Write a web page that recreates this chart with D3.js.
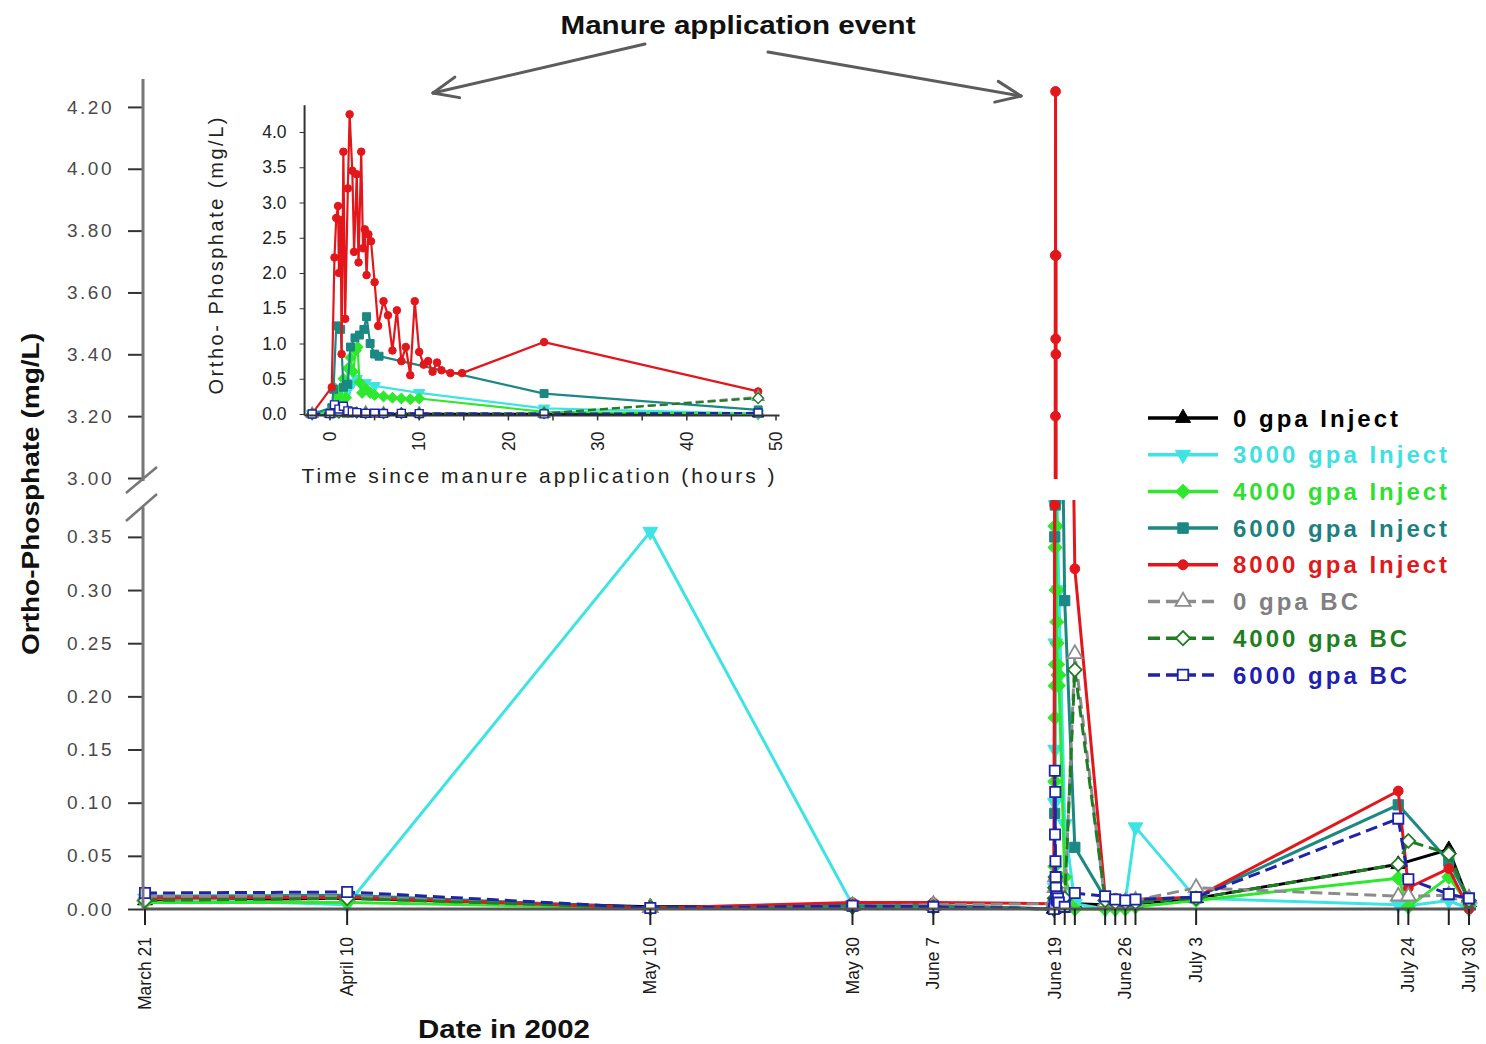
<!DOCTYPE html>
<html>
<head>
<meta charset="utf-8">
<title>Ortho-Phosphate in runoff, 2002</title>
<script src="https://cdn.jsdelivr.net/npm/d3@7/dist/d3.min.js"></script>
<style>
  html, body { margin: 0; padding: 0; background: #fff; }
  svg { display: block; font-family: "Liberation Sans", Arial, Helvetica, sans-serif; }
</style>
</head>
<body>
<svg id="chart" width="1486" height="1044"></svg>
<script>
// ---------------- data ----------------
const seriesNames = ["0 gpa Inject", "3000 gpa Inject", "4000 gpa Inject", "6000 gpa Inject",
                     "8000 gpa Inject", "0 gpa BC", "4000 gpa BC", "6000 gpa BC"];

// routine sampling days (outside the application event)
const routineDates = ["2002-03-21", "2002-04-10", "2002-05-10", "2002-05-30", "2002-06-07",
                      "2002-06-24", "2002-06-25", "2002-06-26", "2002-06-27", "2002-07-03",
                      "2002-07-23", "2002-07-24", "2002-07-28", "2002-07-30"];

// ortho-phosphate (mg/L) on each routine day; null = no sample
const routine0Inject    = [0.008, 0.010, 0.002, 0.003, 0.003, 0.004, 0.004, 0.005, 0.005, 0.010, 0.042, null,  0.056, 0.006];
const routine3000Inject = [0.010, 0.004, 0.355, 0.004, 0.002, 0.000, 0.000, 0.008, 0.077, 0.010, 0.004, 0.003, 0.008, 0.000];
const routine4000Inject = [0.006, 0.006, 0.001, 0.002, 0.002, 0.000, 0.000, 0.000, 0.002, 0.008, 0.029, 0.002, 0.030, 0.004];
const routine6000Inject = [0.012, 0.013, 0.001, 0.003, 0.003, 0.010, 0.008, 0.008, 0.008, 0.011, 0.098, null,  0.045, 0.008];
const routine8000Inject = [0.010, 0.011, 0.001, 0.006, 0.006, 0.012, 0.010, 0.009, 0.009, 0.011, 0.111, 0.020, 0.038, 0.000];
const routine0BC        = [0.012, 0.012, 0.001, 0.003, 0.004, 0.006, 0.006, 0.007, 0.008, 0.020, 0.012, 0.012, 0.013, 0.010];
const routine4000BC     = [0.008, 0.010, 0.001, 0.002, 0.002, 0.008, 0.006, 0.006, 0.006, 0.010, 0.042, 0.064, 0.052, 0.008];
const routine6000BC     = [0.015, 0.016, 0.001, 0.003, 0.002, 0.012, 0.009, 0.008, 0.009, 0.011, 0.085, 0.028, 0.014, 0.010];

// application event: hours since manure application and the concentrations measured
const eventDate = "2002-06-19";
const event0InjectH    = [-2, 0, 1, 2, 4, 8, 24, 48];
const event0InjectV    = [0.000, 0.002, 0.010, 0.005, 0.002, 0.001, 0.002, 0.005];
const event3000InjectH = [-2, 0.3, 0.7, 1.2, 1.7, 2.2, 2.6, 3.0, 3.5, 4.0, 5.0, 10, 24, 48];
const event3000InjectV = [0.000, 0.02, 0.10, 0.15, 0.25, 0.38, 0.45, 0.50, 0.42, 0.44, 0.40, 0.30, 0.08, 0.005];
const event4000InjectH = [-2, 0.2, 0.4, 0.6, 0.8, 1.0, 1.3, 1.5, 1.8, 2.0, 2.3, 2.6, 2.9, 3.1, 3.3, 3.6, 4.0, 4.5, 5, 6, 7, 8, 9, 10, 24, 48];
const event4000InjectV = [0.000, 0.04, 0.12, 0.36, 0.18, 0.34, 0.21, 0.50, 0.23, 0.65, 0.80, 0.60, 0.90, 0.95, 0.45, 0.30, 0.36, 0.30, 0.27, 0.25, 0.23, 0.22, 0.21, 0.22, 0.03, 0.00];
const event6000InjectH = [-2, 0.2, 0.4, 0.7, 1.2, 1.5, 2.0, 2.3, 2.8, 3.3, 3.8, 4.1, 4.5, 5.0, 5.5, 24, 48];
const event6000InjectV = [0.000, 0.09, 0.35, 1.25, 1.20, 0.38, 0.42, 0.95, 1.08, 1.12, 1.20, 1.38, 1.00, 0.85, 0.82, 0.29, 0.058];
const event8000InjectH = [-2, 0.2, 0.5, 0.7, 0.9, 1.0, 1.2, 1.3, 1.5, 1.7, 2.0, 2.2, 2.5, 2.7, 3.0, 3.2, 3.5, 3.7, 3.9, 4.1, 4.3, 4.6,
                          5.0, 5.4, 6.0, 6.5, 7.0, 7.5, 8.0, 8.5, 9.0, 9.5, 10.0, 10.5, 11, 11.5, 12, 12.5, 13.5, 14.8, 24, 48];
const event8000InjectV = [0.005, 0.38, 2.22, 2.78, 2.95, 2.00, 2.75, 0.85, 3.72, 1.35, 3.20, 4.25, 3.45, 2.30, 3.40, 2.15, 3.72, 2.35, 2.62, 1.97, 2.55, 2.45,
                          1.87, 1.25, 1.60, 1.40, 0.90, 1.47, 0.75, 0.95, 0.55, 1.60, 0.88, 0.70, 0.75, 0.60, 0.73, 0.62, 0.58, 0.58, 1.02, 0.32];
const event0BCH        = [-2, 0, 1, 2, 4, 6, 10, 24, 48];
const event0BCV        = [0.005, 0.010, 0.020, 0.030, 0.020, 0.010, 0.010, 0.005, 0.24];
const event4000BCH     = [-2, 0, 1, 2, 3, 4, 6, 8, 10, 24, 48];
const event4000BCV     = [0.000, 0.010, 0.020, 0.030, 0.020, 0.010, 0.010, 0.010, 0.005, 0.010, 0.225];
const event6000BCH     = [-2, 0, 0.5, 1, 1.5, 2, 2.5, 3, 4, 5, 6, 8, 10, 24, 48];
const event6000BCV     = [0.000, 0.005, 0.13, 0.07, 0.11, 0.045, 0.03, 0.02, 0.01, 0.012, 0.008, 0.01, 0.006, 0.002, 0.015];

const routineValues = [routine0Inject, routine3000Inject, routine4000Inject, routine6000Inject,
                       routine8000Inject, routine0BC, routine4000BC, routine6000BC];
const eventHours  = [event0InjectH, event3000InjectH, event4000InjectH, event6000InjectH,
                     event8000InjectH, event0BCH, event4000BCH, event6000BCH];
const eventValues = [event0InjectV, event3000InjectV, event4000InjectV, event6000InjectV,
                     event8000InjectV, event0BCV, event4000BCV, event6000BCV];

// date axis: every sampling day gets a tick, only some carry a label
const tickDates  = ["2002-03-21", "2002-04-10", "2002-05-10", "2002-05-30", "2002-06-07", "2002-06-19",
                    "2002-06-20", "2002-06-21", "2002-06-24", "2002-06-25", "2002-06-26", "2002-06-27",
                    "2002-07-03", "2002-07-23", "2002-07-24", "2002-07-28", "2002-07-30"];
const labelDates = ["2002-03-21", "2002-04-10", "2002-05-10", "2002-05-30", "2002-06-07",
                    "2002-06-19", "2002-06-26", "2002-07-03", "2002-07-24", "2002-07-30"];
const labelTexts = ["March 21", "April 10", "May 10", "May 30", "June 7",
                    "June 19", "June 26", "July 3", "July 24", "July 30"];

const yTicksUpper = [3.0, 3.2, 3.4, 3.6, 3.8, 4.0, 4.2];
const yTicksLower = [0, 0.05, 0.10, 0.15, 0.20, 0.25, 0.30, 0.35];
const insetYTicks = [0, 0.5, 1.0, 1.5, 2.0, 2.5, 3.0, 3.5, 4.0];
const insetXTicks = [0, 5, 10, 15, 20, 25, 30, 35, 40, 45, 50];

// ---------------- styles ----------------
const seriesColors = ["#000000", "#3ee4e4", "#2ee82e", "#1b8883", "#e3161b", "#8c8c8c", "#1f7d24", "#1f23a8"];
const textColors   = ["#000000", "#40e0e0", "#30e030", "#1d8080", "#e01a1a", "#808080", "#1f7f1f", "#2020b0"];
const seriesDash   = [null, null, null, null, null, "12,6", "12,6", "12,6"];
const seriesMarker = ["tri", "triDown", "diamond", "square", "dot", "triOpen", "diamondOpen", "squareOpen"];

// ---------------- helpers ----------------
const utc = s => new Date(s + "T00:00:00Z");
const t0 = utc(eventDate).getTime();

const series = seriesNames.map((name, i) => {
  const pts = [];
  routineDates.forEach((d, j) => {
    const v = routineValues[i][j];
    if (v !== null && utc(d).getTime() < t0) pts.push({ date: utc(d), hour: null, value: v });
  });
  eventHours[i].forEach((h, j) => pts.push({ date: new Date(t0 + h * 3600e3), hour: h, value: eventValues[i][j] }));
  routineDates.forEach((d, j) => {
    const v = routineValues[i][j];
    if (v !== null && utc(d).getTime() > t0) pts.push({ date: utc(d), hour: null, value: v });
  });
  return { name, points: pts, event: pts.filter(p => p.hour !== null),
           color: seriesColors[i], textColor: textColors[i], dash: seriesDash[i], marker: seriesMarker[i] };
});

function markerShape(kind, k) {
  const base = kind.replace("Open", "");
  const open = kind.endsWith("Open");
  let d, rot = 0;
  if (base === "tri") d = d3.symbol(d3.symbolTriangle, 95 * k)();
  else if (base === "triDown") { d = d3.symbol(d3.symbolTriangle, 95 * k)(); rot = 180; }
  else if (base === "diamond") { d = d3.symbol(d3.symbolSquare, 95 * k)(); rot = 45; }
  else if (base === "square") d = d3.symbol(d3.symbolSquare, 105 * k)();
  else d = d3.symbol(d3.symbolCircle, 75 * k)();
  return { d, rot, open };
}

function drawMarkers(g, pts, s, xf, yf, k) {
  const m = markerShape(s.marker, k);
  g.selectAll(null).data(pts).join("path")
    .attr("d", m.d)
    .attr("transform", p => `translate(${xf(p)},${yf(p)}) rotate(${m.rot})`)
    .attr("fill", m.open ? "#fff" : s.color)
    .attr("stroke", s.color)
    .attr("stroke-width", m.open ? 1.8 * Math.sqrt(k) : 1);
}

const svg = d3.select("#chart");
const defs = svg.append("defs");

// ---------------- main chart scales ----------------
const x = d3.scaleUtc().domain([utc("2002-03-21"), utc("2002-07-30")]).range([145, 1469]);
const yUp = d3.scaleLinear().domain([3.0, 4.3]).range([478, 76]);
const yLo = d3.scaleLinear().domain([0, 0.38]).range([909, 505]);
const axisX0 = 143;

defs.append("clipPath").attr("id", "clipUp").append("rect")
  .attr("x", 100).attr("y", 60).attr("width", 1390).attr("height", 419);
defs.append("clipPath").attr("id", "clipLo").append("rect")
  .attr("x", 100).attr("y", 500).attr("width", 1390).attr("height", 440);

// series in both panels of the broken axis
[[yUp, "clipUp"], [yLo, "clipLo"]].forEach(([yScale, clip]) => {
  const g = svg.append("g").attr("clip-path", `url(#${clip})`);
  const line = d3.line().x(p => x(p.date)).y(p => yScale(p.value));
  series.forEach(s => {
    g.append("path").datum(s.points)
      .attr("d", line)
      .attr("fill", "none")
      .attr("stroke", s.color)
      .attr("stroke-width", 3)
      .attr("stroke-linejoin", "round")
      .attr("stroke-dasharray", s.dash);
    drawMarkers(g, s.points, s, p => x(p.date), p => yScale(p.value), 1);
  });
});

// ---------------- main axes ----------------
const axisColor = "#777";
function yAxis(scale, ticks) {
  const g = svg.append("g").attr("transform", `translate(${axisX0},0)`)
    .call(d3.axisLeft(scale).tickValues(ticks).tickFormat(d3.format(".2f")).tickSize(15).tickPadding(14));
  g.select(".domain").remove();
  g.selectAll(".tick line").attr("stroke", "#333").attr("stroke-width", 2);
  g.selectAll(".tick text").attr("font-size", 19).attr("fill", "#4a4a4a")
    .attr("letter-spacing", "2.5px").attr("font-family", "'Liberation Sans', Arial, sans-serif");
}
yAxis(yUp, yTicksUpper);
yAxis(yLo, yTicksLower);

const axes = svg.append("g").attr("stroke", axisColor).attr("stroke-width", 3);
axes.append("line").attr("x1", axisX0).attr("x2", axisX0).attr("y1", 79).attr("y2", 481);
axes.append("line").attr("x1", axisX0).attr("x2", axisX0).attr("y1", 507).attr("y2", yLo(0));
// break marks
axes.append("line").attr("x1", 126).attr("y1", 493).attr("x2", 157).attr("y2", 467).attr("stroke-width", 2.5);
axes.append("line").attr("x1", 126).attr("y1", 521).attr("x2", 157).attr("y2", 494).attr("stroke-width", 2.5);
// date axis
axes.append("line").attr("x1", axisX0).attr("x2", 1476).attr("y1", yLo(0)).attr("y2", yLo(0)).attr("stroke", "#555");

const xg = svg.append("g").attr("transform", `translate(0,${yLo(0)})`);
xg.selectAll("line").data(tickDates).join("line")
  .attr("x1", d => x(utc(d))).attr("x2", d => x(utc(d)))
  .attr("y1", 0).attr("y2", 16)
  .attr("stroke", "#222").attr("stroke-width", 2);
xg.selectAll("text").data(labelDates).join("text")
  .attr("transform", d => `translate(${x(utc(d))},28) rotate(-90)`)
  .attr("text-anchor", "end")
  .attr("dy", "0.35em")
  .attr("font-size", 17.5)
  .attr("fill", "#1a1a1a")
  .text((d, i) => labelTexts[i]);

// axis titles
svg.append("text")
  .attr("transform", "translate(31,494) rotate(-90)")
  .attr("text-anchor", "middle").attr("dy", "0.35em")
  .attr("font-size", 23).attr("font-weight", "bold").attr("fill", "#111")
  .attr("textLength", 322).attr("lengthAdjust", "spacingAndGlyphs")
  .text("Ortho-Phosphate (mg/L)");
svg.append("text")
  .attr("x", 504).attr("y", 1038)
  .attr("text-anchor", "middle")
  .attr("font-size", 25).attr("font-weight", "bold").attr("fill", "#111")
  .attr("textLength", 172).attr("lengthAdjust", "spacingAndGlyphs")
  .text("Date in 2002");

// ---------------- annotation ----------------
svg.append("text")
  .attr("x", 738).attr("y", 34)
  .attr("text-anchor", "middle")
  .attr("font-size", 26).attr("font-weight", "bold").attr("fill", "#111")
  .attr("textLength", 355).attr("lengthAdjust", "spacingAndGlyphs")
  .text("Manure application event");

function arrow(x1, y1, x2, y2) {
  const g = svg.append("g").attr("stroke", "#5c5c5c").attr("stroke-width", 3)
    .attr("stroke-linecap", "round").attr("fill", "none");
  g.append("line").attr("x1", x1).attr("y1", y1).attr("x2", x2).attr("y2", y2);
  const a = Math.atan2(y1 - y2, x1 - x2), len = 27, spread = 0.4;
  [a - spread, a + spread].forEach(t => g.append("line")
    .attr("x1", x2).attr("y1", y2)
    .attr("x2", x2 + len * Math.cos(t)).attr("y2", y2 + len * Math.sin(t)));
}
arrow(645, 44, 433, 93);
arrow(768, 52, 1021, 96);

// ---------------- inset: first 48 hours ----------------
const xIn = d3.scaleLinear().domain([0, 50]).range([330, 776]);
const yIn = d3.scaleLinear().domain([0, 4]).range([414, 132]);
const inX0 = xIn(-2.85), inY0 = yIn(-0.02);

defs.append("clipPath").attr("id", "clipIn").append("rect")
  .attr("x", inX0).attr("y", 95).attr("width", 490).attr("height", inY0 - 95 + 6);

const gi = svg.append("g").attr("clip-path", "url(#clipIn)");
const lineIn = d3.line().x(p => xIn(p.hour)).y(p => yIn(p.value));
series.forEach(s => {
  gi.append("path").datum(s.event)
    .attr("d", lineIn)
    .attr("fill", "none")
    .attr("stroke", s.color)
    .attr("stroke-width", 2.2)
    .attr("stroke-linejoin", "round")
    .attr("stroke-dasharray", s.dash ? "8,4" : null);
  drawMarkers(gi, s.event, s, p => xIn(p.hour), p => yIn(p.value), 0.6);
});

const inAxes = svg.append("g").attr("stroke", "#333").attr("stroke-width", 2);
inAxes.append("line").attr("x1", inX0).attr("x2", inX0).attr("y1", yIn(4.38)).attr("y2", inY0);
inAxes.append("line").attr("x1", inX0).attr("x2", xIn(50.4)).attr("y1", inY0).attr("y2", inY0);

const giy = svg.append("g").attr("transform", `translate(${inX0},0)`)
  .call(d3.axisLeft(yIn).tickValues(insetYTicks).tickFormat(d3.format(".1f")).tickSize(5).tickPadding(13));
giy.select(".domain").remove();
giy.selectAll(".tick line").attr("stroke", "#333");
giy.selectAll(".tick text").attr("font-size", 17.5).attr("fill", "#222")
  .attr("font-family", "'Liberation Sans', Arial, sans-serif");

const gix = svg.append("g").attr("transform", `translate(0,${inY0})`);
gix.selectAll("line").data(insetXTicks).join("line")
  .attr("x1", d => xIn(d)).attr("x2", d => xIn(d))
  .attr("y1", 0).attr("y2", 5).attr("stroke", "#333").attr("stroke-width", 1.5);
gix.selectAll("text").data(insetXTicks.filter(d => d % 10 === 0)).join("text")
  .attr("transform", d => `translate(${xIn(d)},16) rotate(-90)`)
  .attr("text-anchor", "end").attr("dy", "0.35em")
  .attr("font-size", 17.5).attr("fill", "#222")
  .text(d => d);

svg.append("text")
  .attr("transform", "translate(216,256) rotate(-90)")
  .attr("text-anchor", "middle").attr("dy", "0.35em")
  .attr("font-size", 20).attr("fill", "#222")
  .attr("textLength", 277).attr("lengthAdjust", "spacing")
  .text("Ortho- Phosphate (mg/L)");
svg.append("text")
  .attr("x", 538).attr("y", 483)
  .attr("text-anchor", "middle")
  .attr("font-size", 21).attr("fill", "#222")
  .attr("textLength", 473).attr("lengthAdjust", "spacing")
  .text("Time since manure application (hours )");

// ---------------- legend ----------------
const legend = svg.append("g").attr("transform", "translate(1148,418)");
const rowStep = 36.7;
series.forEach((s, i) => {
  const row = legend.append("g").attr("transform", `translate(0,${i * rowStep})`);
  row.append("line").attr("x1", 0).attr("x2", 70).attr("y1", 0).attr("y2", 0)
    .attr("stroke", s.color).attr("stroke-width", 3.5)
    .attr("stroke-dasharray", s.dash);
  drawMarkers(row, [0], s, () => 35, () => 0, 1.05);
  row.append("text")
    .attr("x", 85).attr("y", 0).attr("dy", "0.36em")
    .attr("font-size", 24).attr("font-weight", "bold")
    .attr("letter-spacing", "3px")
    .attr("fill", s.textColor)
    .text(s.name);
});
</script>
</body>
</html>
